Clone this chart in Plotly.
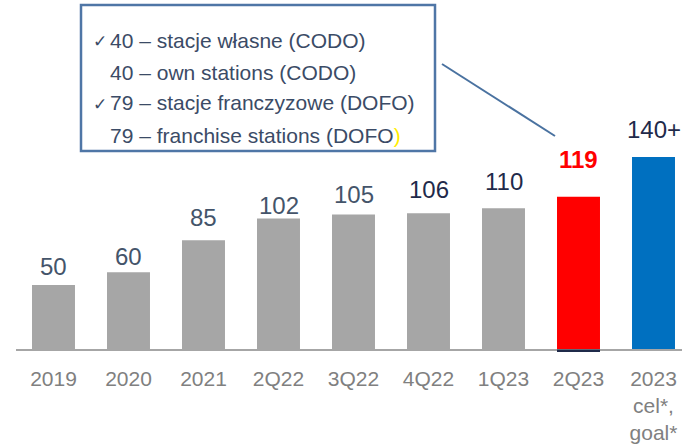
import plotly.graph_objects as go

# ---- data ----
categories = ["2019", "2020", "2021", "2Q22", "3Q22", "4Q22", "1Q23", "2Q23", "2023<br>cel*,<br>goal*"]
values = [50, 60, 85, 102, 105, 106, 110, 119, 150]
value_labels = ["50", "60", "85", "102", "105", "106", "110", "119", "140+"]
callout_lines = [
    ("\u2713", "40 \u2013 stacje w\u0142asne (CODO)"),
    ("", "40 \u2013 own stations (CODO)"),
    ("\u2713", "79 \u2013 stacje franczyzowe (DOFO)"),
    ("", "79 \u2013 franchise stations (DOFO<span style='color:#FFEE00'>)</span>"),
]

# ---- styles ----
bar_colors = ["#A6A6A6"] * 7 + ["#FF0000", "#0070C0"]
label_colors = ["#44546A"] * 5 + ["#1F2A4A", "#1F2A4A", "#FF0000", "#1F2A4A"]
label_bold = [False] * 7 + [True, False]
label_shift_px = [19, 16, 23, 13, 20, 24, 27, 37, 28]

W, H = 682, 445
ML, MR, MT, MB = 16, 0, 0, 96
PW, PH = W - ML - MR, H - MT - MB
YMAX = PH / 1.28


def px_x(px):
    return (px - ML) / PW


def px_y(py):
    return (H - MB - py) / PH


fig = go.Figure()
fig.add_trace(go.Bar(
    x=list(range(len(categories))),
    y=values,
    marker=dict(color=bar_colors, line=dict(width=0)),
    width=0.573,
    hoverinfo="skip",
))

annotations = []
for i, (v, t) in enumerate(zip(values, value_labels)):
    txt = f"<b>{t}</b>" if label_bold[i] else t
    annotations.append(dict(
        x=i, y=v, xref="x", yref="y", text=txt, showarrow=False,
        yanchor="middle", xanchor="center", yshift=label_shift_px[i],
        font=dict(family="Liberation Sans, Arial", size=24, color=label_colors[i]),
    ))

line_y = [40, 72, 103, 135]
for (chk, txt), py in zip(callout_lines, line_y):
    if chk:
        annotations.append(dict(
            x=px_x(91), y=px_y(py + 1), xref="paper", yref="paper", text=chk,
            showarrow=False, xanchor="left", yanchor="middle",
            font=dict(family="DejaVu Sans", size=17, color="#3B4B66"),
        ))
    annotations.append(dict(
        x=px_x(108), y=px_y(py), xref="paper", yref="paper", text=txt,
        showarrow=False, xanchor="left", yanchor="middle",
        font=dict(family="Liberation Sans, Arial", size=21, color="#3B4B66"),
    ))

shapes = [
    dict(type="rect", xref="paper", yref="paper",
         x0=px_x(81), x1=px_x(435), y0=px_y(151), y1=px_y(5),
         line=dict(color="#4F76A6", width=2.5), fillcolor="rgba(0,0,0,0)"),
    dict(type="line", xref="paper", yref="paper",
         x0=px_x(442), y0=px_y(64), x1=px_x(555), y1=px_y(136),
         line=dict(color="#4A72A0", width=2)),
    dict(type="rect", xref="x", yref="paper",
         x0=7 - 0.2865, x1=7 + 0.2865, y0=px_y(352), y1=px_y(349.5),
         line=dict(width=0), fillcolor="#1F2A4A", layer="above"),
]

fig.update_layout(
    width=W, height=H,
    margin=dict(l=ML, r=MR, t=MT, b=MB, pad=0, autoexpand=False),
    paper_bgcolor="white", plot_bgcolor="white",
    showlegend=False,
    annotations=annotations,
    shapes=shapes,
    xaxis=dict(
        tickmode="array", tickvals=list(range(len(categories))), ticktext=categories,
        range=[-0.5, 8.38], showgrid=False, zeroline=False,
        showline=True, linecolor="#A6A6A6", linewidth=1.5,
        ticks="outside", ticklen=10, tickcolor="rgba(0,0,0,0)",
        tickfont=dict(family="Liberation Sans, Arial", size=21, color="#808080"),
    ),
    yaxis=dict(range=[0, YMAX], visible=False, showgrid=False, zeroline=False),
)

fig.write_html(
    "out.html",
    config={"displayModeBar": False, "staticPlot": True},
    post_script="document.body.style.margin='0';document.body.style.overflow='hidden';",
)
